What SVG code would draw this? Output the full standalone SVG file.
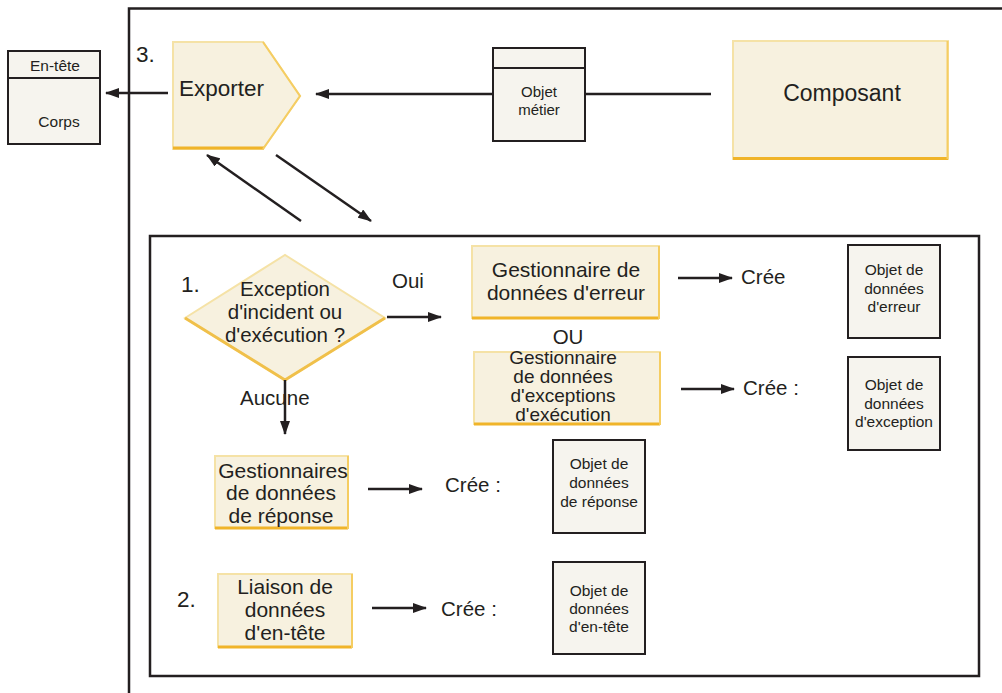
<svg xmlns="http://www.w3.org/2000/svg" width="1002" height="693" viewBox="0 0 1002 693">
<style>
text{font-family:"Liberation Sans",Arial,sans-serif;fill:#231f20}
.y{fill:#f7f1df;stroke:#f5e2a6;stroke-width:2}
.yb{stroke:#f0b429;stroke-width:3;fill:none}
.yr{stroke:#f5cd62;stroke-width:2;fill:none}
.o{fill:#f6f4ee;stroke:#231f20;stroke-width:2}
.ln{stroke:#231f20;stroke-width:2.5;fill:none}
.c{stroke:#231f20;stroke-width:2.5;fill:none;marker-end:url(#ah)}
.t13{font-size:15px}
.t14{font-size:15.5px}
.t18{font-size:20.5px}
.t19{font-size:21px}
.t17{font-size:19px}
.m{text-anchor:middle}
</style>
<defs>
<marker id="ah" viewBox="0 0 14 10" refX="13" refY="5" markerWidth="14" markerHeight="10" markerUnits="userSpaceOnUse" orient="auto">
<path d="M0,0 L14,5 L0,10 Z" fill="#231f20"/>
</marker>
</defs>

<g id="frame">
<path class="ln" d="M129,693 V8.5 H1002"/>
<rect x="150" y="236" width="829" height="440" fill="none" stroke="#231f20" stroke-width="2.5"/>
</g>

<g id="envelope">
<rect class="o" x="8" y="51" width="92" height="93"/>
<line x1="8" y1="78" x2="100" y2="78" stroke="#231f20" stroke-width="2"/>
<text class="t14 m" x="55" y="71">En-tête</text>
<text class="t14 m" x="59" y="127">Corps</text>
</g>

<g id="exporter">
<path class="y" d="M173,42 H263 L300,96 L263,149 H173 Z"/>
<path class="yb" d="M173,148 H264"/>
<path class="yr" d="M263,42 L300,96 L263,149"/>
<text x="179" y="96" font-size="22.5">Exporter</text>
<text x="136" y="62" font-size="22.5">3.</text>
</g>

<g id="business-object">
<rect class="o" x="493" y="48" width="92" height="93"/>
<line x1="493" y1="68" x2="585" y2="68" stroke="#231f20" stroke-width="2"/>
<text class="t13 m" x="539" y="97">Objet</text>
<text class="t13 m" x="539" y="115">métier</text>
</g>

<g id="component">
<rect class="y" x="733" y="41" width="215" height="118"/>
<path class="yb" d="M733,158.5 H948"/>
<path class="yr" d="M947.5,41 V159"/>
<text x="842" y="101" font-size="23" class="m">Composant</text>
</g>

<g id="decision">
<text x="181" y="292" font-size="22.5">1.</text>
<path class="y" d="M185,318 L285,255 L385,318 L285,380 Z"/>
<path d="M185,318 L285,380 L385,318" stroke="#f0c04a" stroke-width="3" fill="none"/>
<text class="t18 m" x="285" y="296">Exception</text>
<text class="t18 m" x="285" y="319">d'incident ou</text>
<text class="t18 m" x="285" y="342">d'exécution ?</text>
<text class="t18" x="392" y="288">Oui</text>
<text class="t18" x="240" y="405">Aucune</text>
</g>

<g id="fault-handler">
<rect class="y" x="472" y="246" width="187" height="72"/>
<path class="yb" d="M472,318 H659"/>
<path class="yr" d="M659,246 V319"/>
<text class="t19 m" x="566" y="277">Gestionnaire de</text>
<text class="t19 m" x="566" y="300">données d'erreur</text>
<text class="t18" x="741" y="284">Crée</text>
</g>

<text id="ou" class="t18 m" x="568" y="344">OU</text>

<g id="runtime-handler">
<rect class="y" x="474" y="352" width="186" height="72"/>
<path class="yb" d="M474,424 H660"/>
<path class="yr" d="M660,352 V425"/>
<text class="t17 m" x="563" y="364">Gestionnaire</text>
<text class="t17 m" x="563" y="383">de données</text>
<text class="t17 m" x="563" y="402">d'exceptions</text>
<text class="t17 m" x="563" y="421">d'exécution</text>
<text class="t18" x="743" y="395">Crée :</text>
</g>

<g id="fault-object">
<rect class="o" x="848" y="245" width="92" height="93"/>
<text class="t14 m" x="894" y="275">Objet de</text>
<text class="t14 m" x="894" y="294">données</text>
<text class="t14 m" x="894" y="312">d'erreur</text>
</g>

<g id="exception-object">
<rect class="o" x="848" y="357" width="92" height="93"/>
<text class="t14 m" x="894" y="390">Objet de</text>
<text class="t14 m" x="894" y="409">données</text>
<text class="t14 m" x="894" y="427">d'exception</text>
</g>

<g id="response-handler">
<rect class="y" x="215" y="456" width="133" height="72"/>
<path class="yb" d="M215,528 H348"/>
<path class="yr" d="M348,456 V529"/>
<text class="t19 m" x="283" y="478">Gestionnaires</text>
<text class="t19 m" x="281" y="500">de données</text>
<text class="t19 m" x="281" y="523">de réponse</text>
<text class="t18" x="445" y="492">Crée :</text>
</g>

<g id="response-object">
<rect class="o" x="553" y="440" width="92" height="93"/>
<text class="t14 m" x="599" y="469">Objet de</text>
<text class="t14 m" x="599" y="488">données</text>
<text class="t14 m" x="599" y="507">de réponse</text>
</g>

<g id="header-binding">
<text x="177" y="607" font-size="22.5">2.</text>
<rect class="y" x="218" y="574" width="134" height="73"/>
<path class="yb" d="M218,647 H352"/>
<path class="yr" d="M352,574 V648"/>
<text class="t19 m" x="285" y="594">Liaison de</text>
<text class="t19 m" x="285" y="617">données</text>
<text class="t19 m" x="285" y="640">d'en-tête</text>
<text class="t18" x="441" y="616">Crée :</text>
</g>

<g id="header-object">
<rect class="o" x="553" y="562" width="92" height="92"/>
<text class="t14 m" x="599" y="596">Objet de</text>
<text class="t14 m" x="599" y="614">données</text>
<text class="t14 m" x="599" y="632">d'en-tête</text>
</g>

<g id="connectors">
<line class="c" x1="168" y1="93" x2="106" y2="93"/>
<line class="c" x1="493" y1="94" x2="316" y2="94"/>
<line class="ln" x1="585" y1="94" x2="711" y2="94"/>
<line class="c" x1="301" y1="221" x2="207" y2="155"/>
<line class="c" x1="276" y1="155" x2="371" y2="221"/>
<line class="c" x1="387" y1="317" x2="441" y2="317"/>
<line class="c" x1="285" y1="380" x2="285" y2="434"/>
<line class="c" x1="678" y1="278" x2="732" y2="278"/>
<line class="c" x1="681" y1="389" x2="734" y2="389"/>
<line class="c" x1="368" y1="489" x2="422" y2="489"/>
<line class="c" x1="372" y1="608" x2="426" y2="608"/>
</g>
</svg>
